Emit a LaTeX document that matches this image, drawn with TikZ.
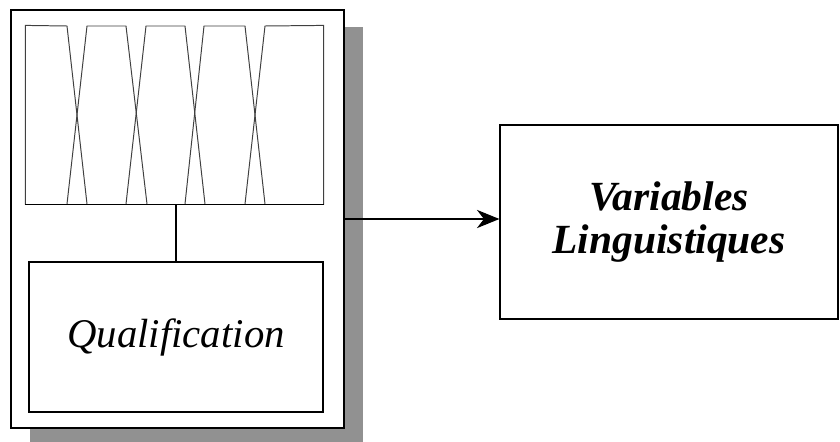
\documentclass[tikz,border=0pt]{standalone}
\usepackage{fontspec}
\setmainfont{Liberation Serif}
\usetikzlibrary{arrows.meta,shadows}

\begin{document}
\begin{tikzpicture}[x=0.025cm,y=-0.025cm,>={Stealth[length=16pt,width=13pt,inset=5pt]},line width=0.8pt]
  \tikzset{box/.style={draw,rectangle,fill=white,inner sep=0pt},
           mfline/.style={draw=black!75,line width=0.7pt}}
  \useasboundingbox (0,0) rectangle (840,441);
  \node[box,minimum width=8.325cm,minimum height=10.45cm,
        drop shadow={shadow xshift=0.475cm,shadow yshift=-0.425cm,fill=black!43,opacity=1}] (fuzz) at (177.5,219) {};
  \node[minimum width=7.425cm,minimum height=4.45cm,inner sep=0pt] (mf) at (174.5,115) {};
  \node[box,minimum width=7.35cm,minimum height=3.75cm,font=\fontsize{29}{32}\selectfont\itshape] (qual) at (176,337)
    {Qualification};
  \node[box,minimum width=8.45cm,minimum height=4.85cm,align=center,
        font=\fontsize{29.5}{31}\selectfont\bfseries\itshape] (var) at (669,222)
    {Variables\\ Linguistiques};
  % membership functions
  \draw[mfline] (mf.south west) -- (mf.north west) -- (67,26) -- (87,204);
  \foreach \a/\b/\c/\d in {67/87/126/147,126/146/185/205,185/204/245/265}
    \draw[mfline] (\a,204) -- (\b,26) -- (\c,26) -- (\d,204);
  \draw[mfline] (245,204) -- (265,26) -- (mf.north east) -- (mf.south east);
  \draw (mf.south west) -- (mf.south east);
  \draw (qual.north) -- (qual.north |- mf.south);
  \path[->] (fuzz.east) edge (fuzz.east -| var.west);
\end{tikzpicture}
\end{document}
